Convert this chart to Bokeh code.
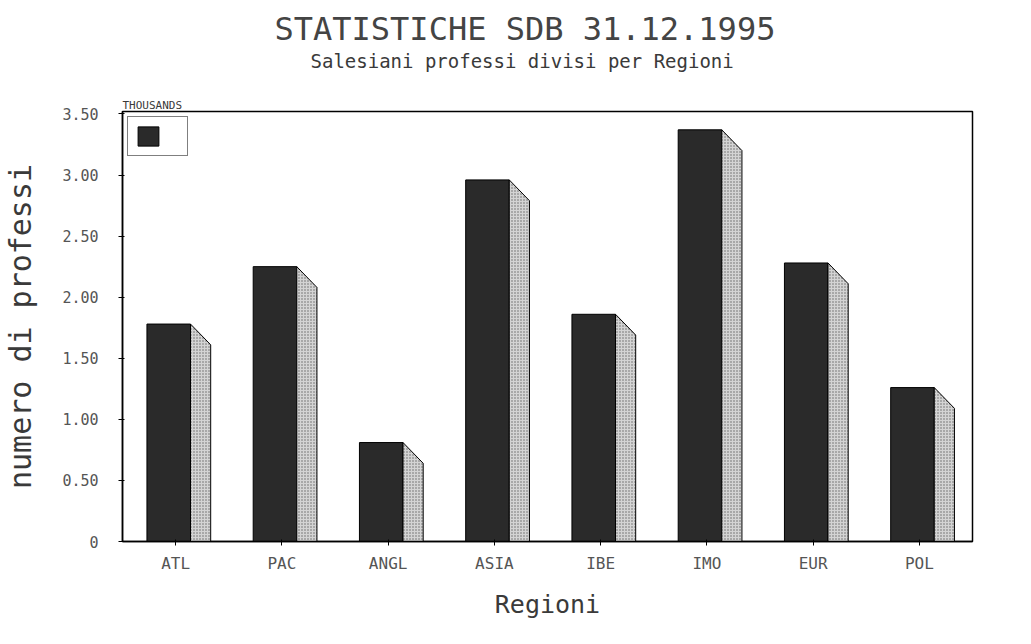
import numpy as np
from bokeh.plotting import figure
from bokeh.models import Range1d, FixedTicker, Title, Legend, LegendItem
from bokeh.embed import file_html
from bokeh.resources import INLINE

# ---- data ----
regions = ["ATL", "PAC", "ANGL", "ASIA", "IBE", "IMO", "EUR", "POL"]
professi_thousands = [1.78, 2.25, 0.81, 2.96, 1.86, 3.37, 2.28, 1.26]
y_ticks = [0, 0.5, 1.0, 1.5, 2.0, 2.5, 3.0, 3.5]
y_tick_labels = ["0", "0.50", "1.00", "1.50", "2.00", "2.50", "3.00", "3.50"]

MONO = "DejaVu Sans Mono"
TXT = "#3a3a3a"

# style geometry (offsets relative to category centre)
front_l, front_r = -0.27, 0.14
side_r = 0.33
drop = 0.17

centers = np.arange(len(regions)) + 0.5
vals = np.array(professi_thousands)

p = figure(width=1015, height=636, output_backend="svg", toolbar_location=None,
           x_range=Range1d(0, len(regions)), y_range=Range1d(0, 3.52),
           min_border_left=122, min_border_right=43, min_border_top=111, min_border_bottom=95)

p.background_fill_color = "white"
p.border_fill_color = "white"
p.outline_line_color = "black"
p.outline_line_width = 1.5
p.grid.visible = False

front = p.quad(left=centers + front_l, right=centers + front_r, bottom=0, top=vals,
               fill_color="#2a2a2a", line_color="black", line_width=1)

xs = [[c + front_r, c + front_r, c + side_r, c + side_r] for c in centers]
ys = [[0, v, max(v - drop, 0), 0] for v in vals]
p.patches(xs=xs, ys=ys, fill_color="#d4d4d4", line_color="black", line_width=1,
          hatch_pattern=".", hatch_color="#666666", hatch_scale=3, hatch_weight=1)

# axes
p.xaxis.ticker = FixedTicker(ticks=list(centers))
p.xaxis.major_label_overrides = {float(c): r for c, r in zip(centers, regions)}
p.yaxis.ticker = FixedTicker(ticks=y_ticks)
p.yaxis.major_label_overrides = {t: l for t, l in zip(y_ticks, y_tick_labels)}

for ax in (p.xaxis[0], p.yaxis[0]):
    ax.axis_line_color = "black"
    ax.axis_line_width = 1.5
    ax.major_tick_line_color = "black"
    ax.major_tick_out = 4
    ax.major_tick_in = 2
    ax.minor_tick_line_color = None
    ax.major_label_text_font = MONO
    ax.major_label_text_color = "#555555"
    ax.axis_label_text_font = MONO
    ax.axis_label_text_font_style = "normal"
    ax.axis_label_text_color = TXT

p.xaxis.major_label_text_font_size = "16px"
p.yaxis.major_label_text_font_size = "15px"

p.xaxis.axis_label = "Regioni"
p.xaxis.axis_label_text_font_size = "25px"
p.xaxis.axis_label_standoff = 14
p.xaxis.major_label_standoff = 8

p.yaxis.axis_label = "numero di professi"
p.yaxis.axis_label_text_font_size = "30px"
p.yaxis.axis_label_standoff = 21
p.yaxis.major_label_standoff = 20

# titles (first added is closest to the frame)
p.add_layout(Title(text="THOUSANDS", align="left", text_font=MONO, text_font_size="11px",
                   text_font_style="normal", text_color=TXT, standoff=0), "above")
p.add_layout(Title(text=" ", align="left", text_font=MONO, text_font_size="2px", standoff=21), "above")
p.add_layout(Title(text="Salesiani professi divisi per Regioni", align="left", text_font=MONO,
                   text_font_size="19px", text_font_style="normal", text_color=TXT, standoff=0,
                   offset=188), "above")
p.add_layout(Title(text="STATISTICHE SDB 31.12.1995", align="left", text_font=MONO,
                   text_font_size="32px", text_font_style="normal", text_color="#444444", standoff=0,
                   offset=152), "above")

legend = Legend(items=[LegendItem(label=" ", renderers=[front])], location="top_left",
                border_line_color="black", border_line_width=1.5, glyph_width=26, glyph_height=24,
                label_width=14, padding=7, margin=5, label_text_font_size="10px",
                background_fill_alpha=1)
p.add_layout(legend)

open("out.html", "w").write(file_html(p, INLINE))
